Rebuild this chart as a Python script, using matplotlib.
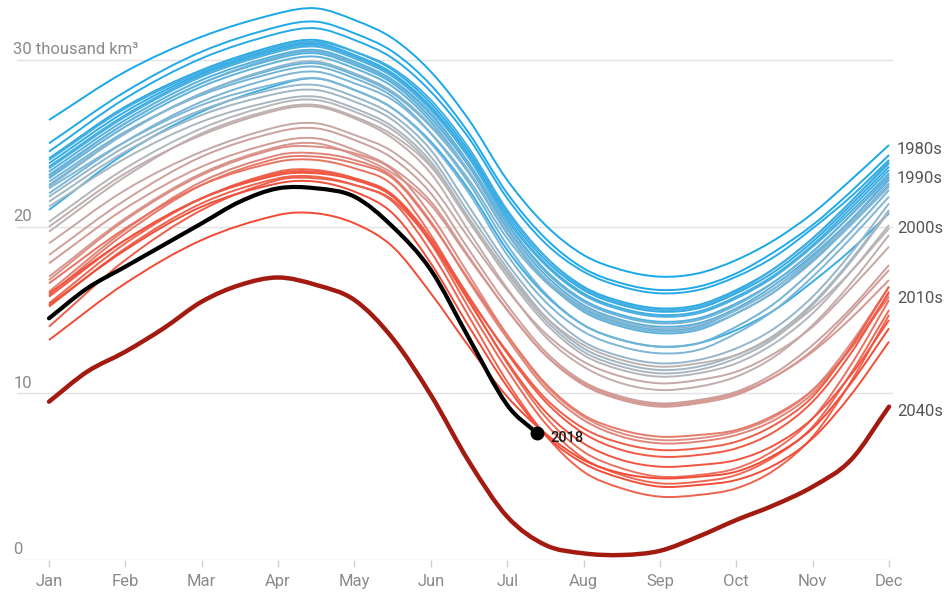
import matplotlib
matplotlib.use("Agg")
import matplotlib.pyplot as plt
from matplotlib.colors import LinearSegmentedColormap
from matplotlib.path import Path
import matplotlib.patches as mpatches

plt.rcParams['font.family'] = ['Roboto', 'DejaVu Sans']

# month positions (0 = Jan 1, 11 = Dec 1) where each year's volume was read
month_pts = [0, 1, 2, 3, 3.5, 4, 4.5, 5, 5.5, 6, 6.5, 7, 7.5, 8, 8.5, 9, 9.5, 10, 10.5, 11]

# Arctic sea ice volume, thousand km3
v1979 = [26.4, 29.3, 31.4, 32.8, 33.1, 32.4, 31.3, 29.3, 26.4, 22.8, 20.1, 18.3, 17.4, 17.0, 17.2, 18.0, 19.2, 20.8, 22.8, 24.9]
v1980 = [25.0, 28.1, 30.5, 32.0, 32.3, 31.6, 30.5, 28.5, 25.6, 22.0, 19.3, 17.5, 16.6, 16.2, 16.4, 17.2, 18.5, 20.1, 22.1, 24.3]
v1981 = [24.5, 27.7, 30.1, 31.6, 31.9, 31.2, 30.1, 28.1, 25.3, 21.7, 19.0, 17.3, 16.4, 16.0, 16.2, 17.0, 18.2, 19.9, 21.8, 24.0]
v1982 = [24.1, 27.2, 29.4, 30.9, 31.2, 30.5, 29.4, 27.4, 24.5, 20.9, 18.2, 16.4, 15.5, 15.1, 15.3, 16.2, 17.5, 19.3, 21.5, 23.8]
v1983 = [23.8, 26.9, 29.2, 30.7, 31.0, 30.3, 29.2, 27.2, 24.3, 20.7, 18.0, 16.2, 15.3, 14.9, 15.1, 16.0, 17.3, 19.1, 21.3, 23.6]
v1984 = [21.0, 24.4, 26.9, 28.5, 28.9, 28.2, 27.1, 25.1, 22.2, 18.6, 15.9, 14.1, 13.2, 12.8, 13.0, 13.8, 15.0, 16.7, 18.6, 20.8]
v1985 = [23.6, 26.7, 29.1, 30.6, 30.9, 30.2, 29.1, 27.1, 24.2, 20.5, 17.8, 16.0, 15.1, 14.7, 14.9, 15.8, 17.1, 18.9, 21.1, 23.4]
v1986 = [24.0, 27.1, 29.3, 30.8, 31.1, 30.5, 29.5, 27.6, 24.7, 21.0, 18.2, 16.3, 15.4, 15.0, 15.2, 16.1, 17.5, 19.3, 21.5, 23.9]
v1987 = [23.5, 26.6, 29.0, 30.5, 30.8, 30.1, 29.0, 27.0, 24.1, 20.4, 17.7, 15.9, 15.0, 14.6, 14.8, 15.7, 17.0, 18.8, 20.9, 23.2]
v1988 = [23.3, 26.4, 28.8, 30.3, 30.6, 29.9, 28.8, 26.8, 23.8, 20.2, 17.4, 15.6, 14.7, 14.3, 14.5, 15.4, 16.7, 18.5, 20.7, 23.0]
v1989 = [23.1, 26.2, 28.6, 30.1, 30.4, 29.7, 28.6, 26.5, 23.6, 19.9, 17.1, 15.3, 14.4, 14.0, 14.2, 15.1, 16.5, 18.3, 20.4, 22.8]
v1990 = [22.9, 26.0, 28.4, 29.9, 30.2, 29.5, 28.4, 26.3, 23.3, 19.6, 16.8, 14.9, 14.0, 13.6, 13.8, 14.8, 16.1, 18.0, 20.2, 22.6]
v1991 = [22.5, 25.6, 28.0, 29.5, 29.8, 29.1, 28.0, 26.0, 23.2, 19.6, 16.8, 15.1, 14.2, 13.8, 14.0, 15.0, 16.3, 18.2, 20.4, 22.9]
v1992 = [23.0, 26.2, 28.6, 30.2, 30.5, 29.8, 28.7, 26.7, 23.7, 20.1, 17.3, 15.5, 14.6, 14.2, 14.4, 15.3, 16.7, 18.5, 20.7, 23.1]
v1993 = [22.7, 25.7, 27.9, 29.3, 29.6, 28.9, 27.8, 25.6, 22.6, 18.9, 16.0, 14.1, 13.2, 12.8, 13.0, 14.0, 15.4, 17.4, 19.7, 22.2]
v1994 = [22.0, 25.1, 27.5, 29.0, 29.3, 28.6, 27.6, 25.6, 22.8, 19.3, 16.7, 15.0, 14.1, 13.7, 13.9, 14.8, 16.1, 17.9, 20.1, 22.4]
v1995 = [22.3, 25.1, 27.3, 28.6, 28.9, 28.2, 27.1, 25.0, 22.0, 18.3, 15.5, 13.7, 12.8, 12.4, 12.6, 13.6, 15.0, 17.0, 19.3, 21.8]
v1996 = [22.4, 25.6, 28.0, 29.6, 29.9, 29.2, 28.1, 26.1, 23.3, 19.7, 16.9, 15.2, 14.3, 13.9, 14.1, 15.0, 16.3, 18.1, 20.2, 22.5]
v1997 = [21.8, 24.8, 27.0, 28.3, 28.5, 27.8, 26.7, 24.6, 21.2, 17.8, 15.0, 13.1, 12.2, 11.8, 12.0, 12.7, 13.9, 15.8, 18.4, 21.4]
v1998 = [21.5, 24.5, 26.7, 28.0, 28.2, 27.5, 26.4, 24.2, 20.8, 17.5, 14.6, 12.7, 11.8, 11.4, 11.6, 12.3, 13.5, 15.4, 18.0, 21.0]
v1999 = [21.2, 24.1, 26.3, 27.6, 27.8, 27.1, 26.0, 23.9, 20.5, 17.2, 14.4, 12.5, 11.6, 11.2, 11.4, 12.1, 13.3, 15.3, 17.9, 20.9]
v2000 = [20.3, 23.5, 25.9, 27.4, 27.6, 26.9, 25.8, 23.7, 20.3, 17.0, 14.2, 12.3, 11.4, 11.0, 11.2, 11.8, 13.0, 14.8, 17.3, 20.1]
v2001 = [19.7, 23.0, 25.6, 27.1, 27.3, 26.6, 25.5, 23.6, 20.4, 17.3, 14.6, 12.9, 12.0, 11.6, 11.8, 12.3, 13.4, 15.1, 17.3, 19.9]
v2002 = [20.0, 23.2, 25.5, 27.0, 27.2, 26.5, 25.3, 23.2, 19.7, 16.3, 13.4, 11.6, 10.6, 10.2, 10.4, 11.0, 12.2, 14.1, 16.6, 19.5]
v2003 = [19.0, 22.2, 24.5, 26.0, 26.2, 25.5, 24.5, 22.5, 19.3, 16.2, 13.6, 11.9, 11.0, 10.6, 10.8, 11.3, 12.4, 14.0, 16.3, 18.8]
v2004 = [18.3, 21.6, 24.2, 25.7, 25.9, 25.2, 24.1, 22.0, 18.6, 15.3, 12.5, 10.7, 9.8, 9.4, 9.6, 10.1, 11.2, 12.9, 15.1, 17.7]
v2005 = [17.8, 21.1, 23.6, 25.1, 25.3, 24.6, 23.5, 21.5, 18.2, 15.0, 12.3, 10.5, 9.6, 9.2, 9.4, 9.9, 11.0, 12.6, 14.9, 17.4]
v2006 = [17.0, 20.5, 23.2, 24.8, 25.0, 24.3, 23.2, 21.3, 18.1, 15.0, 12.3, 10.6, 9.7, 9.3, 9.5, 10.0, 11.0, 12.5, 14.5, 16.8]
v2007 = [16.8, 20.4, 23.1, 24.7, 24.8, 24.4, 23.4, 20.7, 17.1, 13.5, 10.5, 8.6, 7.6, 7.2, 7.3, 7.7, 8.6, 10.2, 13.0, 16.4]
v2008 = [16.1, 19.8, 22.7, 24.3, 24.4, 24.0, 23.0, 20.3, 16.7, 13.3, 10.3, 8.4, 7.4, 7.0, 7.1, 7.5, 8.4, 10.0, 12.7, 16.0]
v2009 = [15.9, 19.6, 22.5, 24.1, 24.2, 23.8, 22.9, 20.2, 16.8, 13.5, 10.6, 8.7, 7.8, 7.4, 7.5, 7.8, 8.7, 10.2, 12.7, 15.8]
v2010 = [16.6, 19.9, 22.5, 23.9, 24.0, 23.5, 22.5, 19.5, 15.6, 11.8, 8.6, 6.5, 5.5, 5.0, 5.1, 5.5, 6.6, 8.5, 11.7, 15.6]
v2011 = [15.4, 19.0, 21.7, 23.3, 23.4, 22.9, 21.9, 19.0, 15.1, 11.4, 8.2, 6.1, 5.1, 4.6, 4.7, 5.1, 6.2, 8.0, 11.2, 15.0]
v2012 = [15.2, 18.7, 21.4, 22.9, 23.0, 22.5, 21.5, 18.5, 14.6, 10.7, 7.5, 5.3, 4.3, 3.8, 3.9, 4.3, 5.4, 7.4, 10.7, 14.7]
v2013 = [14.0, 18.0, 21.0, 22.8, 22.9, 22.5, 21.6, 19.1, 15.7, 12.5, 9.7, 7.9, 7.0, 6.6, 6.7, 7.1, 8.1, 9.8, 12.8, 16.4]
v2014 = [15.8, 19.2, 21.7, 23.2, 23.3, 22.9, 21.9, 19.3, 15.8, 12.4, 9.5, 7.6, 6.6, 6.2, 6.3, 6.7, 7.7, 9.5, 12.4, 16.1]
v2015 = [16.0, 19.2, 21.7, 23.1, 23.2, 22.8, 21.8, 19.1, 15.5, 11.9, 8.9, 7.0, 6.0, 5.6, 5.7, 6.0, 6.9, 8.5, 11.1, 14.4]
v2016 = [15.3, 18.6, 21.2, 22.6, 22.7, 22.1, 20.8, 17.8, 14.0, 10.4, 7.5, 5.8, 4.9, 4.4, 4.5, 4.8, 5.7, 7.3, 9.9, 13.1]
v2017 = [13.2, 16.6, 19.2, 20.7, 20.8, 20.2, 18.8, 16.0, 12.8, 9.8, 7.6, 6.0, 5.2, 4.9, 5.0, 5.3, 6.3, 7.9, 10.6, 13.9]

years = list(range(1979, 2018))
volumes = [v1979, v1980, v1981, v1982, v1983, v1984, v1985, v1986, v1987, v1988,
           v1989, v1990, v1991, v1992, v1993, v1994, v1995, v1996, v1997, v1998,
           v1999, v2000, v2001, v2002, v2003, v2004, v2005, v2006, v2007, v2008,
           v2009, v2010, v2011, v2012, v2013, v2014, v2015, v2016, v2017]

# 2018, up to mid July
pts_2018 = [0, 0.5, 1, 1.5, 2, 2.5, 3, 3.5, 4, 4.5, 5, 5.5, 6, 6.39]
v2018 = [14.5, 16.3, 17.6, 18.9, 20.2, 21.5, 22.3, 22.3, 21.8, 20.0, 17.4, 13.3, 9.3, 7.6]

# projection for the 2040s
pts_2040 = [0, 0.5, 1, 1.5, 2, 2.5, 3, 3.5, 4, 4.5, 5, 5.5, 6, 6.5, 7, 7.5, 8, 8.5, 9, 9.5, 10, 10.5, 11]
v2040s = [9.5, 11.3, 12.5, 13.9, 15.5, 16.5, 16.95, 16.5, 15.6, 13.3, 9.9, 5.9, 2.6, 0.9, 0.4, 0.3, 0.55, 1.4, 2.4, 3.3, 4.4, 6.0, 9.2]

months = ['Jan', 'Feb', 'Mar', 'Apr', 'May', 'Jun', 'Jul', 'Aug', 'Sep', 'Oct', 'Nov', 'Dec']
decade_labels = ['1980s', '1990s', '2000s', '2010s', '2040s']
decade_label_y = [24.6, 22.9, 19.9, 15.7, 8.9]

cmap = LinearSegmentedColormap.from_list('ice', [(0, '#18a8ea'), (0.42, '#7fb6d6'), (0.56, '#b8b6b8'),
                                                 (0.72, '#d9948c'), (0.84, '#ee6853'), (1, '#f24a35')])


def smooth_line(ax, xs, ys, **kw):
    # draw a curve through the points (cubic hermite segments, like a d3 curve)
    n = len(xs)
    sl = []
    for i in range(n):
        a = max(i - 1, 0)
        b = min(i + 1, n - 1)
        sl.append((ys[b] - ys[a]) / (xs[b] - xs[a]))
    verts = [(xs[0], ys[0])]
    codes = [Path.MOVETO]
    for i in range(n - 1):
        dx = xs[i + 1] - xs[i]
        verts += [(xs[i] + dx / 3, ys[i] + sl[i] * dx / 3),
                  (xs[i + 1] - dx / 3, ys[i + 1] - sl[i + 1] * dx / 3),
                  (xs[i + 1], ys[i + 1])]
        codes += [Path.CURVE4] * 3
    p = mpatches.PathPatch(Path(verts, codes), fill=False, **kw)
    ax.add_patch(p)
    return p


fig = plt.figure(figsize=(9.48, 5.94), dpi=100)
ax = fig.add_axes([17 / 948, 34 / 594, 876 / 948, 557 / 594])

for yr, vals in zip(years, volumes):
    t = (yr - 1979) / (2017 - 1979)
    smooth_line(ax, month_pts, vals, edgecolor=cmap(t), lw=1.4, joinstyle='round', zorder=2)

smooth_line(ax, pts_2040, v2040s, edgecolor='#a31b10', lw=3.2, capstyle='round', zorder=3, clip_on=False)
smooth_line(ax, pts_2018, v2018, edgecolor='black', lw=3.0, capstyle='round', zorder=4)
ax.plot(pts_2018[-1], v2018[-1], 'o', color='black', ms=9, zorder=5)
ax.text(pts_2018[-1] + 0.17, v2018[-1] - 0.3, '2018', fontsize=10.5, color='#1a1a1a',
        fontweight='medium', va='center', ha='left', zorder=5)

ax.set_xlim(-0.419, 11.052)
ax.set_ylim(0, 33.42)

for g in [0, 10, 20, 30]:
    ax.axhline(g, color='#e2e2e2', lw=1, zorder=1)

ylab = ax.get_yaxis_transform()
ax.text(-0.004, 30.35, '30 thousand km³', transform=ylab, fontsize=12, color='#8a8a8a', ha='left', va='baseline')
for g in [20, 10, 0]:
    ax.text(-0.004, g + 0.35, str(g), transform=ylab, fontsize=12, color='#8a8a8a', ha='left', va='baseline')

for lab, yv in zip(decade_labels, decade_label_y):
    ax.text(1.0046, yv, lab, transform=ylab, fontsize=12, color='#555555', ha='left', va='center')

ax.set_xticks(range(12))
ax.set_xticklabels(months)
ax.tick_params(axis='x', length=5, width=1, color='#d0d0d0', labelcolor='#8a8a8a', labelsize=12, pad=5)
ax.set_yticks([])
for s in ax.spines.values():
    s.set_visible(False)

fig.savefig('out.png', dpi=100)
